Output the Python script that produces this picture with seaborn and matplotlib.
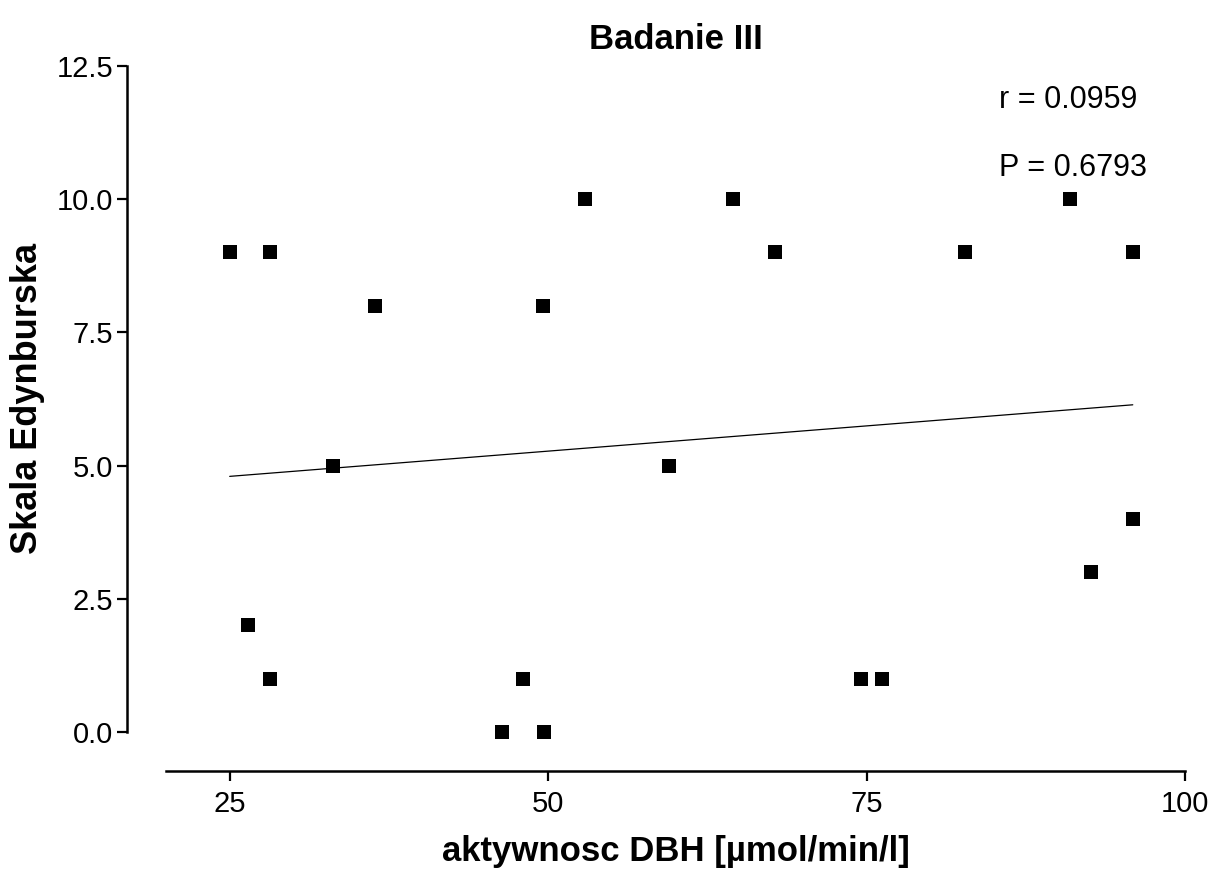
import numpy as np
import pandas as pd
import matplotlib
matplotlib.use("Agg")
import matplotlib.pyplot as plt
import seaborn as sns

# aktywnosc DBH vs Skala Edynburska
dbh = [25.0, 26.4, 28.2, 28.2, 33.1, 36.4, 46.4, 48.0, 49.7, 49.6, 52.9,
       59.5, 64.5, 67.8, 74.6, 76.2, 82.7, 91.0, 92.6, 95.9, 95.9]
skala = [9, 2, 9, 1, 5, 8, 0, 1, 0, 8, 10,
         5, 10, 9, 1, 1, 9, 10, 3, 9, 4]
x_ticks = [25, 50, 75, 100]
y_ticks = [0.0, 2.5, 5.0, 7.5, 10.0, 12.5]
r_txt = "r = 0.0959"
p_txt = "P = 0.6793"

df = pd.DataFrame({"DBH": dbh, "Skala": skala})

sns.set_style("ticks")
plt.rcParams['font.family'] = ['Liberation Sans', 'DejaVu Sans']
plt.rcParams['text.color'] = 'black'
plt.rcParams['axes.labelcolor'] = 'black'

fig = plt.figure(figsize=(12.18, 8.82), dpi=100)
ax = fig.add_axes([0.1363, 0.1701, 0.8366, 0.7551])

sns.regplot(data=df, x="DBH", y="Skala", ci=None, marker="s", ax=ax,
            scatter_kws=dict(s=95, color="black", alpha=1, linewidths=0,
                             clip_on=False, zorder=3),
            line_kws=dict(color="black", lw=0.9))

ax.set_xlim(20, 100)
ax.set_ylim(0, 12.5)
ax.set_xticks(x_ticks)
ax.set_yticks(y_ticks)
ax.set_xticklabels([str(t) for t in x_ticks])
ax.set_yticklabels([f"{t:.1f}" for t in y_ticks])

sns.despine(ax=ax, offset=28)
for s in ["left", "bottom"]:
    ax.spines[s].set_linewidth(1.8)
    ax.spines[s].set_color("black")
ax.tick_params(axis="both", length=7, width=1.6, labelsize=21, colors="black")
ax.tick_params(axis="y", pad=3)
ax.tick_params(axis="x", pad=7)

ax.set_title("Badanie III", fontsize=25, fontweight="bold", pad=12)
ax.set_xlabel("aktywnosc DBH [µmol/min/l]", fontsize=25, fontweight="bold", labelpad=12)
ax.set_ylabel("Skala Edynburska", fontsize=26, fontweight="bold", labelpad=8)

ax.text(85.4, 11.86, r_txt, fontsize=22, va="center", ha="left")
ax.text(85.4, 10.59, p_txt, fontsize=22, va="center", ha="left")

fig.savefig("out.png", dpi=100, facecolor="white")
